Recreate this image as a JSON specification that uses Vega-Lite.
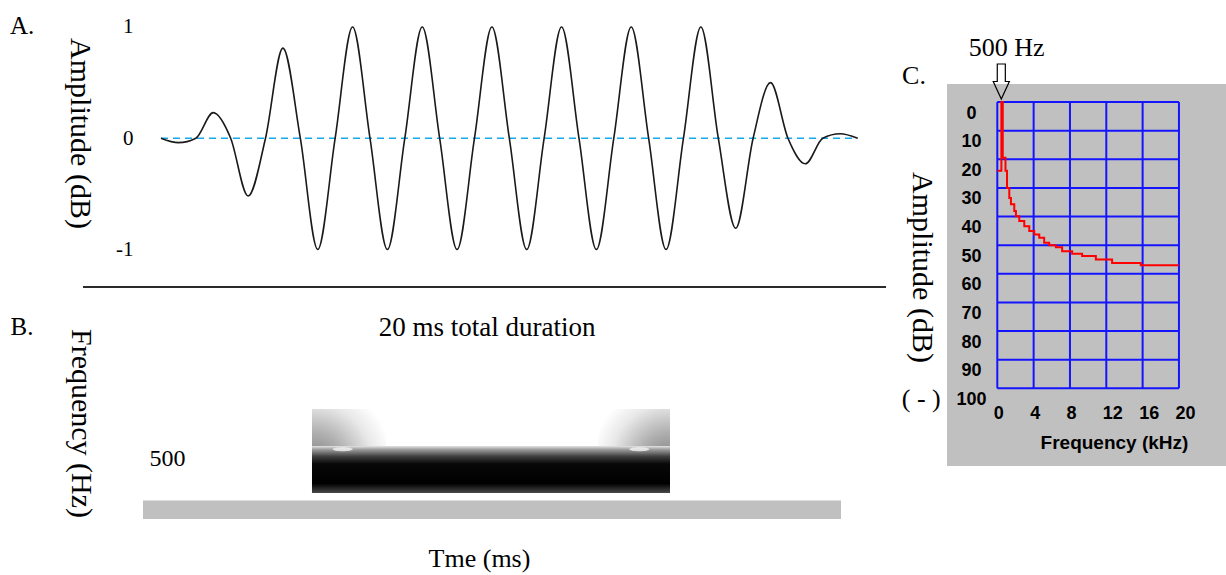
{
  "$schema": "https://vega.github.io/schema/vega-lite/v6.json",
  "padding": 0,
  "autosize": {"type": "pad"},
  "background": "white",
  "spacing": 5,
  "config": {
    "view": {"stroke": "transparent"},
    "font": "Liberation Serif",
    "axis": {"labelColor": "black", "titleColor": "black", "grid": false, "labelOverlap": false, "labelFlush": false, "format": "d"},
    "text": {"color": "black"}
  },
  "hconcat": [
    {
      "bounds": "flush",
      "spacing": 13,
      "vconcat": [
        {
          "width": 885,
          "height": 287,
          "layer": [
            {
              "data": {"values": [{"t": 0, "t_end": 20, "amp": 0}]},
              "mark": {"type": "rule", "color": "#14a8ec", "strokeWidth": 1.6, "strokeDash": [7, 5]},
              "encoding": {
                "x": {"field": "t", "type": "quantitative", "scale": {"domain": [-4.594, 20.815], "nice": false, "zero": false}, "axis": null},
                "x2": {"field": "t_end"},
                "y": {
                  "field": "amp", "type": "quantitative",
                  "scale": {"domain": [-1.3471, 1.2338], "nice": false, "zero": false},
                  "axis": {
                    "orient": "left", "values": [1, 0, -1], "offset": -132, "zindex": 1,
                    "labelExpr": "toString(datum.value)",
                    "domain": false, "ticks": false, "tickSize": 0, "labelPadding": 0,
                    "labelFont": "Liberation Serif", "labelFontSize": 21, "labelBaseline": "middle",
                    "title": "Amplitude (dB)", "titleFont": "Liberation Serif", "titleFontSize": 30, "titleFontWeight": "normal",
                    "titleAngle": 90, "titleX": -54, "titleY": 132, "titleAlign": "center", "titleBaseline": "middle"
                  }
                }
              }
            },
            {
              "data": {"values": [
                {"t": 0, "amp": 0}, {"t": 0.5, "amp": -0.04}, {"t": 1, "amp": 0}, {"t": 1.5, "amp": 0.23},
                {"t": 2, "amp": 0}, {"t": 2.5, "amp": -0.52}, {"t": 3, "amp": 0}, {"t": 3.5, "amp": 0.81},
                {"t": 4, "amp": 0}, {"t": 4.5, "amp": -1}, {"t": 5, "amp": 0}, {"t": 5.5, "amp": 1},
                {"t": 6, "amp": 0}, {"t": 6.5, "amp": -1}, {"t": 7, "amp": 0}, {"t": 7.5, "amp": 1},
                {"t": 8, "amp": 0}, {"t": 8.5, "amp": -1}, {"t": 9, "amp": 0}, {"t": 9.5, "amp": 1},
                {"t": 10, "amp": 0}, {"t": 10.5, "amp": -1}, {"t": 11, "amp": 0}, {"t": 11.5, "amp": 1},
                {"t": 12, "amp": 0}, {"t": 12.5, "amp": -1}, {"t": 13, "amp": 0}, {"t": 13.5, "amp": 1},
                {"t": 14, "amp": 0}, {"t": 14.5, "amp": -1}, {"t": 15, "amp": 0}, {"t": 15.5, "amp": 1},
                {"t": 16, "amp": 0}, {"t": 16.5, "amp": -0.81}, {"t": 17, "amp": 0}, {"t": 17.5, "amp": 0.5},
                {"t": 18, "amp": 0}, {"t": 18.5, "amp": -0.23}, {"t": 19, "amp": 0}, {"t": 19.5, "amp": 0.04},
                {"t": 20, "amp": 0}
              ]},
              "mark": {"type": "line", "interpolate": "monotone", "color": "#1a1a1a", "strokeWidth": 1.6},
              "encoding": {
                "x": {"field": "t", "type": "quantitative"},
                "y": {"field": "amp", "type": "quantitative"}
              }
            },
            {
              "data": {"values": [{"t": -2.239, "t_end": 20.815, "amp": -1.3381}]},
              "mark": {"type": "rule", "color": "#2b2b2b", "strokeWidth": 2},
              "encoding": {
                "x": {"field": "t", "type": "quantitative"},
                "x2": {"field": "t_end"},
                "y": {"field": "amp", "type": "quantitative"}
              }
            },
            {
              "data": {"values": [{"t": -3.989, "amp": 1.009, "label": "A."}]},
              "mark": {"type": "text", "font": "Liberation Serif", "fontSize": 25, "align": "center", "baseline": "middle"},
              "encoding": {
                "x": {"field": "t", "type": "quantitative"},
                "y": {"field": "amp", "type": "quantitative"},
                "text": {"field": "label"}
              }
            }
          ]
        },
        {
          "width": 885,
          "height": 275,
          "layer": [
            {
              "data": {"values": [{"t0": 0, "t1": 20, "f0": 0, "f1": 154}]},
              "mark": {"type": "rect", "color": "#c0c0c0"},
              "encoding": {
                "x": {
                  "field": "t0", "type": "quantitative",
                  "scale": {"domain": [-4.0688, 21.289], "nice": false, "zero": false},
                  "axis": {
                    "labels": false, "ticks": false, "domain": false, "zindex": 1,
                    "title": "Tme (ms)", "titleFont": "Liberation Serif", "titleFontSize": 26, "titleFontWeight": "normal",
                    "titleX": 478, "titleY": -18, "titleAlign": "center", "titleBaseline": "middle"
                  }
                },
                "x2": {"field": "t1"},
                "y": {
                  "field": "f0", "type": "quantitative",
                  "scale": {"domain": [-474, 1812.7], "nice": false, "zero": false},
                  "axis": {
                    "orient": "left", "values": [500], "offset": -184, "zindex": 1,
                    "domain": false, "ticks": false, "tickSize": 0, "labelPadding": 0,
                    "labelFont": "Liberation Serif", "labelFontSize": 24, "labelBaseline": "middle",
                    "title": "Frequency (Hz)", "titleFont": "Liberation Serif", "titleFontSize": 30, "titleFontWeight": "normal",
                    "titleAngle": 90, "titleX": -105, "titleY": 122, "titleAlign": "center", "titleBaseline": "middle"
                  }
                },
                "y2": {"field": "f1"}
              }
            },
            {
              "data": {"values": [{"t0": 4.842, "t1": 15.1, "f0": 216, "f1": 607}]},
              "mark": {
                "type": "rect",
                "fill": {
                  "gradient": "linear", "x1": 0, "y1": 0, "x2": 0, "y2": 1,
                  "stops": [
                    {"offset": 0, "color": "#e4e4e4"},
                    {"offset": 0.07, "color": "#a0a0a0"},
                    {"offset": 0.22, "color": "#404040"},
                    {"offset": 0.38, "color": "#080808"},
                    {"offset": 0.8, "color": "#000000"},
                    {"offset": 1, "color": "#4a4a4a"}
                  ]
                }
              },
              "encoding": {
                "x": {"field": "t0", "type": "quantitative"},
                "x2": {"field": "t1"},
                "y": {"field": "f0", "type": "quantitative"},
                "y2": {"field": "f1"}
              }
            },
            {
              "data": {"values": [{"t0": 4.842, "t1": 6.963, "f0": 607, "f1": 915}]},
              "mark": {
                "type": "rect",
                "fill": {
                  "gradient": "radial", "x1": 0, "y1": 1, "r1": 0, "x2": 0, "y2": 1, "r2": 1.1,
                  "stops": [
                    {"offset": 0, "color": "#7c7c7c"},
                    {"offset": 0.4, "color": "#b0b0b0"},
                    {"offset": 0.75, "color": "#e8e8e8"},
                    {"offset": 1, "color": "#ffffff"}
                  ]
                }
              },
              "encoding": {
                "x": {"field": "t0", "type": "quantitative"},
                "x2": {"field": "t1"},
                "y": {"field": "f0", "type": "quantitative"},
                "y2": {"field": "f1"}
              }
            },
            {
              "data": {"values": [{"t0": 13.037, "t1": 15.1, "f0": 607, "f1": 915}]},
              "mark": {
                "type": "rect",
                "fill": {
                  "gradient": "radial", "x1": 1, "y1": 1, "r1": 0, "x2": 1, "y2": 1, "r2": 1.1,
                  "stops": [
                    {"offset": 0, "color": "#7c7c7c"},
                    {"offset": 0.4, "color": "#b0b0b0"},
                    {"offset": 0.75, "color": "#e8e8e8"},
                    {"offset": 1, "color": "#ffffff"}
                  ]
                }
              },
              "encoding": {
                "x": {"field": "t0", "type": "quantitative"},
                "x2": {"field": "t1"},
                "y": {"field": "f0", "type": "quantitative"},
                "y2": {"field": "f1"}
              }
            },
            {
              "data": {"values": [{"t0": 5.72, "f0": 580}, {"t0": 14.22, "f0": 580}]},
              "mark": {
                "type": "point", "filled": true, "color": "white", "opacity": 0.7, "size": 400,
                "shape": "M -1 0 A 1 0.2 0 1 0 1 0 A 1 0.2 0 1 0 -1 0 Z"
              },
              "encoding": {
                "x": {"field": "t0", "type": "quantitative"},
                "y": {"field": "f0", "type": "quantitative"}
              }
            },
            {
              "data": {"values": [
                {"t0": 9.857, "f0": 1588, "label": "20 ms total duration", "size": 27},
                {"t0": -3.467, "f0": 1596, "label": "B.", "size": 25}
              ]},
              "mark": {"type": "text", "font": "Liberation Serif", "align": "center", "baseline": "middle"},
              "encoding": {
                "x": {"field": "t0", "type": "quantitative"},
                "y": {"field": "f0", "type": "quantitative"},
                "text": {"field": "label"},
                "size": {"field": "size", "type": "quantitative", "scale": null, "legend": null}
              }
            }
          ]
        }
      ]
    },
    {
      "width": 336,
      "height": 465,
      "layer": [
        {
          "data": {"values": [{"f0": -5.538, "f1": 25.619, "d0": -6.287, "d1": 127.14}]},
          "mark": {"type": "rect", "color": "#c0c0c0"},
          "encoding": {
            "x": {
              "field": "f0", "type": "quantitative",
              "scale": {"domain": [-11.373, 25.619], "nice": false, "zero": false},
              "axis": {
                "orient": "bottom", "values": [0, 4, 8, 12, 16, 20], "offset": -53, "zindex": 2,
                "domain": false, "ticks": false, "tickSize": 0, "labelPadding": 0, "labelOffset": -4,
                "labelAlign": "left", "labelBaseline": "middle",
                "labelFont": "Liberation Sans", "labelFontWeight": "bold", "labelFontSize": 18,
                "title": "Frequency (kHz)", "titleFont": "Liberation Sans", "titleFontWeight": "bold", "titleFontSize": 19,
                "titleX": 220, "titleY": 29, "titleAlign": "center", "titleBaseline": "middle"
              }
            },
            "x2": {"field": "f1"},
            "y": {
              "field": "d0", "type": "quantitative",
              "scale": {"domain": [-35.28, 127.14], "nice": false, "zero": false, "reverse": true},
              "axis": {
                "orient": "left", "values": [0, 10, 20, 30, 40, 50, 60, 70, 80, 90, 100], "offset": -77, "zindex": 2,
                "domain": false, "ticks": false, "tickSize": 0, "labelPadding": 0, "labelOffset": 11,
                "labelAlign": "center", "labelBaseline": "middle",
                "labelFont": "Liberation Sans", "labelFontWeight": "bold", "labelFontSize": 18,
                "title": "Amplitude (dB)", "titleFont": "Liberation Serif", "titleFontSize": 30, "titleFontWeight": "normal",
                "titleAngle": 90, "titleX": -50, "titleY": 266, "titleAlign": "center", "titleBaseline": "middle"
              }
            },
            "y2": {"field": "d1"}
          }
        },
        {
          "data": {"values": [
            {"f": 0, "d0": 0, "d1": 100}, {"f": 4, "d0": 0, "d1": 100}, {"f": 8, "d0": 0, "d1": 100},
            {"f": 12, "d0": 0, "d1": 100}, {"f": 16, "d0": 0, "d1": 100}, {"f": 20, "d0": 0, "d1": 100}
          ]},
          "mark": {"type": "rule", "color": "#1414ff", "strokeWidth": 2},
          "encoding": {
            "x": {"field": "f", "type": "quantitative"},
            "y": {"field": "d0", "type": "quantitative"},
            "y2": {"field": "d1"}
          }
        },
        {
          "data": {"values": [
            {"d": 0, "f0": 0, "f1": 20}, {"d": 10, "f0": 0, "f1": 20}, {"d": 20, "f0": 0, "f1": 20},
            {"d": 30, "f0": 0, "f1": 20}, {"d": 40, "f0": 0, "f1": 20}, {"d": 50, "f0": 0, "f1": 20},
            {"d": 60, "f0": 0, "f1": 20}, {"d": 70, "f0": 0, "f1": 20}, {"d": 80, "f0": 0, "f1": 20},
            {"d": 90, "f0": 0, "f1": 20}, {"d": 100, "f0": 0, "f1": 20}
          ]},
          "mark": {"type": "rule", "color": "#1414ff", "strokeWidth": 2},
          "encoding": {
            "x": {"field": "f0", "type": "quantitative"},
            "x2": {"field": "f1"},
            "y": {"field": "d", "type": "quantitative"}
          }
        },
        {
          "data": {"values": [
            {"f": 0, "db": 24}, {"f": 0.45, "db": 0}, {"f": 0.6, "db": 19.5}, {"f": 0.9, "db": 24},
            {"f": 1.07, "db": 30}, {"f": 1.32, "db": 33.5}, {"f": 1.5, "db": 35.7}, {"f": 1.87, "db": 38.1},
            {"f": 2.05, "db": 39.9}, {"f": 2.42, "db": 41.6}, {"f": 2.97, "db": 43.4}, {"f": 3.52, "db": 45.1},
            {"f": 4.07, "db": 46.3}, {"f": 4.62, "db": 47.4}, {"f": 5.16, "db": 49.2}, {"f": 5.71, "db": 50},
            {"f": 6.45, "db": 50.7}, {"f": 7.14, "db": 52.1}, {"f": 8.24, "db": 53}, {"f": 9.34, "db": 53.8},
            {"f": 10.85, "db": 55}, {"f": 12.64, "db": 56.2}, {"f": 15.79, "db": 57}, {"f": 20, "db": 57}
          ]},
          "mark": {"type": "line", "interpolate": "step-after", "color": "#ff0000", "strokeWidth": 2},
          "encoding": {
            "x": {"field": "f", "type": "quantitative"},
            "y": {"field": "db", "type": "quantitative"}
          }
        },
        {
          "data": {"values": [{"f": 0.44, "db": -7.17}]},
          "mark": {
            "type": "point", "filled": false, "color": "black", "strokeWidth": 1.2, "size": 1225, "opacity": 1,
            "shape": "M -0.23 -1 L 0.23 -1 L 0.23 0 L 0.46 0 L 0 1 L -0.46 0 L -0.23 0 Z"
          },
          "encoding": {
            "x": {"field": "f", "type": "quantitative"},
            "y": {"field": "db", "type": "quantitative"}
          }
        },
        {
          "data": {"values": [
            {"f": 1.04, "db": -18.9, "label": "500 Hz", "size": 26},
            {"f": -9.17, "db": -9.08, "label": "C.", "size": 26},
            {"f": -8.37, "db": 103.7, "label": "( - )", "size": 26}
          ]},
          "mark": {"type": "text", "font": "Liberation Serif", "align": "center", "baseline": "middle"},
          "encoding": {
            "x": {"field": "f", "type": "quantitative"},
            "y": {"field": "db", "type": "quantitative"},
            "text": {"field": "label"},
            "size": {"field": "size", "type": "quantitative", "scale": null, "legend": null}
          }
        }
      ]
    }
  ]
}
